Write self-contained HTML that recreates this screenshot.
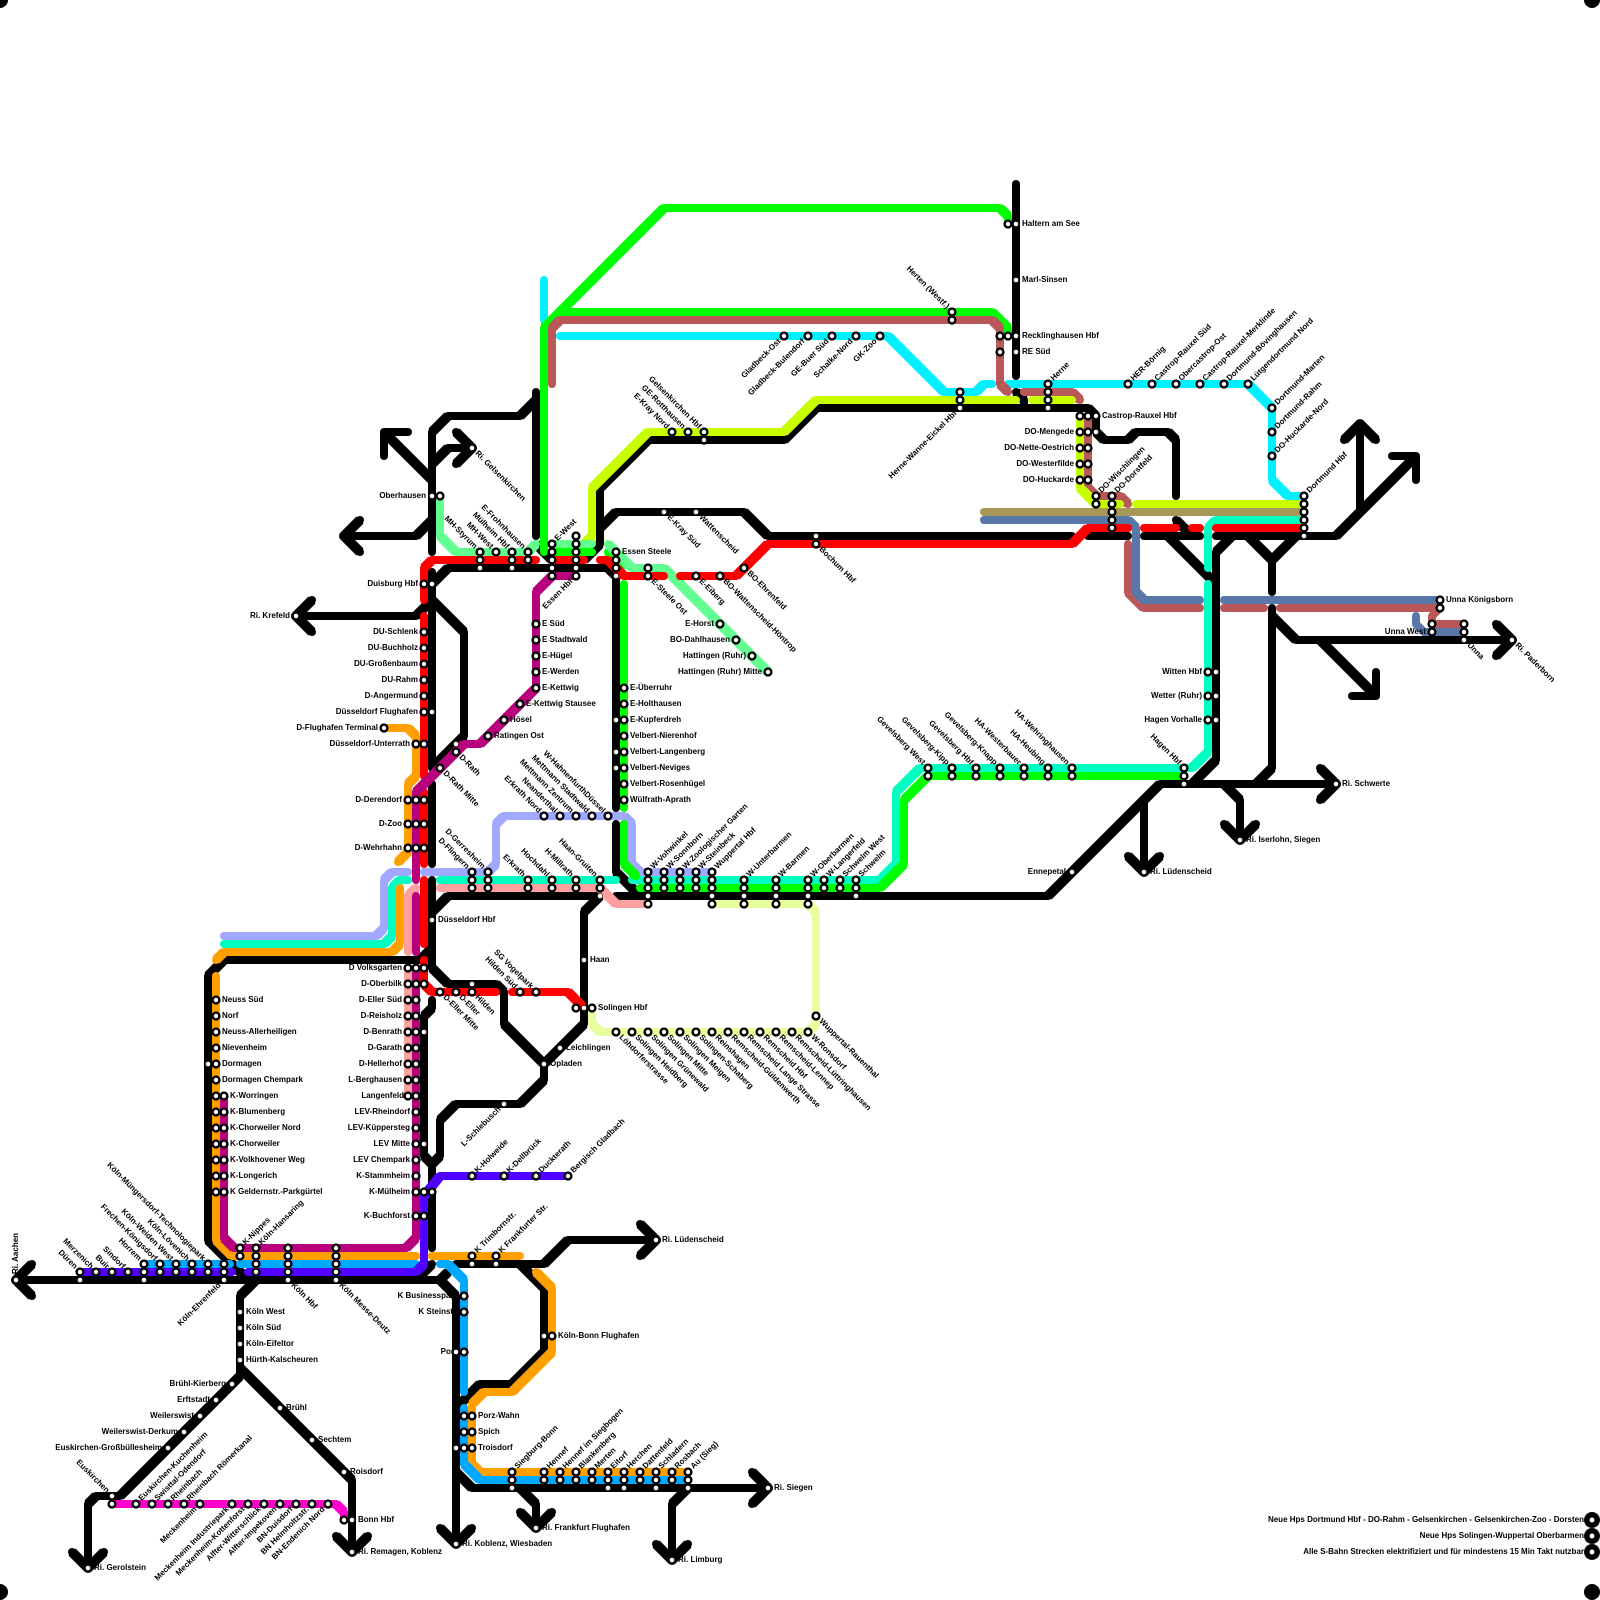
<!DOCTYPE html>
<html><head><meta charset="utf-8"><style>
html,body{margin:0;padding:0;background:#fff}
svg{display:block}
text{font:bold 8px "Liberation Sans",Arial,sans-serif;fill:#000}
.e{text-anchor:end}
path{fill:none;stroke-width:8;stroke-linecap:round;stroke-linejoin:round}
path.d{stroke-width:10;stroke-linecap:butt}
.b circle{fill:#fff;stroke:#000;stroke-width:2.4}
.s circle{fill:#fff;stroke:#000;stroke-width:.6}
</style></head><body>
<svg width="1600" height="1600" viewBox="0 0 1600 1600" xmlns="http://www.w3.org/2000/svg">
<!-- labels clipped by the line -->
<g class="e"><text x="458" y="1298">K Businesspark</text><text x="458" y="1314">K Steinstr.</text><text x="458" y="1354">Porz</text></g>
<!-- black -->
<path stroke="#000" d="M16 1280H440L456 1296V1544M440 1528L456 1544L472 1528M32 1264L16 1280L32 1296
M456 1472L472 1488H768M752 1472L768 1488L752 1504M520 1488L536 1504V1528M520 1512L536 1528L552 1512M688 1488L672 1504V1560M656 1544L672 1560L688 1544
M456 1408L480 1384H512L544 1352V1288L520 1264M456 1264H544L568 1240H656M640 1224L656 1240L640 1256M440 1280L448 1272M416 1280L432 1264
M432 1248V1164L424 1156V1016L432 1008V1000M432 880V968M432 912L448 896H600L584 912V1024L544 1064V1080L520 1104H456L440 1120V1156L432 1164M432 968L448 984H496L504 992V1024L544 1064
M224 960H420L432 948M208 1240V976L224 960M208 1240L248 1280M240 1376V1296L256 1280M240 1376L120 1496H96L88 1504V1568M72 1552L88 1568L104 1552M240 1368L352 1480V1552M336 1536L352 1552L368 1536
M432 784V864M432 572V768M464 736L432 768M432 600L464 632V736M296 616H416L432 600M312 600L296 616L312 632M448 568L432 584
M432 552V432L448 416H520L536 400M536 392V536M384 432L432 480M384 456V432H408M432 464L448 448H472M456 432L472 448L456 464M344 536H416L432 520M360 520L344 536L360 552
M448 568H608L616 576V808M616 824V872L640 896M536 544L552 560M600 544L584 560M600 544V488L648 440H784L816 408H1088L1096 416V432L1104 440H1128L1136 432H1168L1176 440V496
M600 528L616 512H744L768 536H1072M616 896H1048L1160 784H1336M1320 768L1336 784L1320 800M1144 800V872M1128 856L1144 872L1160 856M1224 784L1240 800V840M1224 824L1240 840L1256 824
M1216 760V552L1232 536M1216 760L1192 784M1168 536L1216 584M1272 768L1256 784M1272 608V768M1272 616L1296 640H1512M1496 624L1512 640L1496 656M1320 640L1376 696M1376 672V696H1352
M1248 536L1272 560V592M1296 536L1272 560M1216 536H1336L1416 456M1392 456H1416V480M1360 424V512M1344 440L1360 424L1376 440M1088 536H1128M1144 536H1200M1176 520L1192 536M1016 184V376M1016 392L1024 400V408"/>
<path class="d" stroke="#000" d="M32 1264L16 1280L32 1296M440 1528L456 1544L472 1528M440 1280L456 1296M456 1472L472 1488M752 1472L768 1488L752 1504M520 1488L536 1504M520 1512L536 1528L552 1512M688 1488L672 1504M656 1544L672 1560L688 1544M456 1408L480 1384M512 1384L544 1352M544 1288L520 1264M544 1264L568 1240M640 1224L656 1240L640 1256M440 1280L448 1272M416 1280L432 1264M432 1164L424 1156M424 1016L432 1008M432 912L448 896M600 896L584 912M584 1024L544 1064M544 1080L520 1104M456 1104L440 1120M440 1156L432 1164M432 968L448 984M496 984L504 992M504 1024L544 1064M420 960L432 948M208 976L224 960M208 1240L248 1280M240 1296L256 1280M240 1376L120 1496M96 1496L88 1504M72 1552L88 1568L104 1552M240 1368L352 1480M336 1536L352 1552L368 1536M464 736L432 768M432 600L464 632M416 616L432 600M312 600L296 616L312 632M448 568L432 584M432 432L448 416M520 416L536 400M384 432L432 480M432 464L448 448M456 432L472 448L456 464M416 536L432 520M360 520L344 536L360 552M608 568L616 576M616 872L640 896M536 544L552 560M600 544L584 560M600 488L648 440M784 440L816 408M1088 408L1096 416M1096 432L1104 440M1128 440L1136 432M1168 432L1176 440M600 528L616 512M744 512L768 536M1048 896L1160 784M1320 768L1336 784L1320 800M1128 856L1144 872L1160 856M1224 784L1240 800M1224 824L1240 840L1256 824M1216 552L1232 536M1216 760L1192 784M1168 536L1216 584M1272 768L1256 784M1272 616L1296 640M1496 624L1512 640L1496 656M1320 640L1376 696M1336 536L1416 456M1344 440L1360 424L1376 440M1176 520L1192 536M1248 536L1272 560M1296 536L1272 560M1016 392L1024 400"/>
<!-- colours -->
<path stroke="#00F0FF" d="M544 280V320M560 336H888L944 392H976L984 384H992M1008 384H1248L1272 408V480L1288 496H1304"/>
<path class="d" stroke="#00F0FF" d="M888 336L944 392M976 392L984 384M1248 384L1272 408M1272 480L1288 496"/>
<path stroke="#A0A8FF" d="M224 936H376L384 928V880L392 872H408M424 872H488L496 864V824L504 816H624L632 824V864L640 872H712"/>
<path class="d" stroke="#A0A8FF" d="M376 936L384 928M384 880L392 872M488 872L496 864M496 824L504 816M624 816L632 824M632 864L640 872"/>
<path stroke="#00FFC0" d="M224 944H384L392 936V888L400 880H408M440 880H616M632 880H880L896 864V792L920 768H1192L1208 752V584M1208 568V528L1216 520H1304"/>
<path class="d" stroke="#00FFC0" d="M384 944L392 936M392 888L400 880M880 880L896 864M896 792L920 768M1192 768L1208 752M1208 528L1216 520"/>
<path stroke="#00FF00" d="M544 552V328L664 208H1000L1008 216V224M544 328L560 312H992L1008 328V336M552 552H592M608 552L622 566M624 584V808M624 824V864L636 876M640 888H880L904 864V800L928 776H1184"/>
<path class="d" stroke="#00FF00" d="M544 328L664 208M1000 208L1008 216M544 328L560 312M992 312L1008 328M608 552L622 566M624 864L636 876M880 888L904 864M904 800L928 776"/>
<path stroke="#B85858" d="M552 384V328L560 320H992L1000 328V384L1008 392M1024 392H1072L1080 400M1088 416V488L1096 496H1120L1128 504M1128 544V592L1144 608H1200M1224 608H1264M1280 608H1440L1432 616V624H1464"/>
<path class="d" stroke="#B85858" d="M552 328L560 320M992 320L1000 328M1000 384L1008 392M1072 392L1080 400M1088 488L1096 496M1120 496L1128 504M1128 592L1144 608"/>
<path stroke="#C8FF00" d="M584 544L592 536V488L648 432H784L816 400H1016M1032 400H1072M1080 416V488L1096 504H1120M1136 504H1304"/>
<path class="d" stroke="#C8FF00" d="M584 544L592 536M592 488L648 432M784 432L816 400M1080 488L1096 504"/>
<path stroke="#A89858" d="M984 512H1304"/>
<path stroke="#5878A8" d="M984 520H1128L1136 528V592L1144 600H1200M1224 600H1440M1416 616V624L1424 632H1464"/>
<path class="d" stroke="#5878A8" d="M1128 520L1136 528M1136 592L1144 600"/>
<path stroke="#60FF90" d="M440 496V536L456 552H528L536 544M552 544H592M608 544L632 568H664L768 672"/>
<path class="d" stroke="#60FF90" d="M440 536L456 552M528 552L536 544M608 544L632 568M664 568L768 672"/>
<path stroke="#FFA0A0" d="M408 968V1096M408 952V896L416 888M440 888H600L616 904H648"/>
<path class="d" stroke="#FFA0A0" d="M408 896L416 888M600 888L616 904"/>
<path stroke="#FF0000" d="M424 600V568L432 560H536M424 616V776M424 792V864M424 880V944M424 960V984L432 992H496M512 992H568L582 1006M552 560H584M600 560H608L624 576H664M680 576H736L768 544H1072L1088 528H1128M1144 528H1176M1192 528H1200M1216 528H1304"/>
<path class="d" stroke="#FF0000" d="M424 568L432 560M424 984L432 992M568 992L582 1006M608 560L624 576M736 576L768 544M1072 544L1088 528"/>
<path stroke="#FFA000" d="M384 728H408L416 736V776L408 784V852L398 862M400 888V944L392 952H224L216 960M216 976V1240L232 1256H416M432 1256H520M536 1272L552 1288V1352L512 1392H484L472 1404V1464L480 1472H688"/>
<path class="d" stroke="#FFA000" d="M408 728L416 736M416 776L408 784M408 852L398 862M400 944L392 952M224 952L216 960M216 1240L232 1256M536 1272L552 1288M552 1352L512 1392M484 1392L472 1404M472 1464L480 1472"/>
<path stroke="#B8007C" d="M224 1096V1238L234 1248H406L416 1238V968M416 952V896M416 880V792L464 744H480L536 688V592L552 576H576"/>
<path class="d" stroke="#B8007C" d="M224 1238L234 1248M406 1248L416 1238M416 792L464 744M480 744L536 688M536 592L552 576"/>
<path stroke="#E8FFA0" d="M712 904H808L816 912V1024L808 1032H600L592 1024V1008"/>
<path class="d" stroke="#E8FFA0" d="M808 904L816 912M816 1024L808 1032M600 1032L592 1024"/>
<path stroke="#00A8FF" d="M144 1264H230M240 1264H416M440 1264H448L464 1280V1392M464 1408V1464L480 1480H688"/>
<path class="d" stroke="#00A8FF" d="M448 1264L464 1280M464 1464L480 1480"/>
<path stroke="#5000FF" d="M80 1272H232M248 1272H416L424 1264V1196L440 1176H568"/>
<path class="d" stroke="#5000FF" d="M416 1272L424 1264M424 1196L440 1176"/>
<path stroke="#FF00CC" d="M112 1504H336L344 1512V1520"/>
<path class="d" stroke="#FF00CC" d="M336 1504L344 1512"/>
<!-- labels right -->
<g>
<text x="230" y="1098">K-Worringen</text><text x="230" y="1114">K-Blumenberg</text><text x="230" y="1130">K-Chorweiler Nord</text><text x="230" y="1146">K-Chorweiler</text><text x="230" y="1162">K-Volkhovener Weg</text><text x="230" y="1178">K-Longerich</text><text x="230" y="1194">K Geldernstr.-Parkgürtel</text>
<text x="222" y="1002">Neuss Süd</text><text x="222" y="1018">Norf</text><text x="222" y="1034">Neuss-Allerheiligen</text><text x="222" y="1050">Nievenheim</text><text x="222" y="1066">Dormagen</text><text x="222" y="1082">Dormagen Chempark</text>
<text x="246" y="1314">Köln West</text><text x="246" y="1330">Köln Süd</text><text x="246" y="1346">Köln-Eifeltor</text><text x="246" y="1362">Hürth-Kalscheuren</text>
<text x="286" y="1410">Brühl</text><text x="318" y="1442">Sechtem</text><text x="350" y="1474">Roisdorf</text><text x="358" y="1522">Bonn Hbf</text><text x="358" y="1554">Ri. Remagen, Koblenz</text><text x="94" y="1570">Ri. Gerolstein</text>
<text x="478" y="1418">Porz-Wahn</text><text x="478" y="1434">Spich</text><text x="478" y="1450">Troisdorf</text><text x="558" y="1338">Köln-Bonn Flughafen</text>
<text x="462" y="1546">Ri. Koblenz, Wiesbaden</text><text x="662" y="1242">Ri. Lüdenscheid</text><text x="542" y="1530">Ri. Frankfurt Flughafen</text><text x="678" y="1562">Ri. Limburg</text><text x="774" y="1490">Ri. Siegen</text>
<text x="438" y="922">Düsseldorf Hbf</text><text x="590" y="962">Haan</text><text x="598" y="1010">Solingen Hbf</text><text x="566" y="1050">Leichlingen</text><text x="550" y="1066">Opladen</text>
<text x="542" y="626">E Süd</text><text x="542" y="642">E Stadtwald</text><text x="542" y="658">E-Hügel</text><text x="542" y="674">E-Werden</text><text x="542" y="690">E-Kettwig</text><text x="526" y="706">E-Kettwig Stausee</text><text x="510" y="722">Hösel</text><text x="494" y="738">Ratingen Ost</text>
<text x="622" y="554">Essen Steele</text>
<text x="630" y="690">E-Überruhr</text><text x="630" y="706">E-Holthausen</text><text x="630" y="722">E-Kupferdreh</text><text x="630" y="738">Velbert-Nierenhof</text><text x="630" y="754">Velbert-Langenberg</text><text x="630" y="770">Velbert-Neviges</text><text x="630" y="786">Velbert-Rosenhügel</text><text x="630" y="802">Wülfrath-Aprath</text>
<text x="1022" y="226">Haltern am See</text><text x="1022" y="282">Marl-Sinsen</text><text x="1022" y="338">Recklinghausen Hbf</text><text x="1022" y="354">RE Süd</text><text x="1102" y="418">Castrop-Rauxel Hbf</text>
<text x="1446" y="602">Unna Königsborn</text><text x="1150" y="874">Ri. Lüdenscheid</text><text x="1246" y="842">Ri. Iserlohn, Siegen</text><text x="1342" y="786">Ri. Schwerte</text>
</g>
<!-- labels left -->
<g class="e">
<text x="418" y="586">Duisburg Hbf</text><text x="290" y="618">Ri. Krefeld</text><text x="426" y="498">Oberhausen</text>
<text x="418" y="634">DU-Schlenk</text><text x="418" y="650">DU-Buchholz</text><text x="418" y="666">DU-Großenbaum</text><text x="418" y="682">DU-Rahm</text><text x="418" y="698">D-Angermund</text><text x="418" y="714">Düsseldorf Flughafen</text><text x="378" y="730">D-Flughafen Terminal</text><text x="410" y="746">Düsseldorf-Unterrath</text>
<text x="402" y="802">D-Derendorf</text><text x="402" y="826">D-Zoo</text><text x="402" y="850">D-Wehrhahn</text>
<text x="402" y="970">D Volksgarten</text><text x="402" y="986">D-Oberbilk</text><text x="402" y="1002">D-Eller Süd</text><text x="402" y="1018">D-Reisholz</text><text x="402" y="1034">D-Benrath</text><text x="402" y="1050">D-Garath</text><text x="402" y="1066">D-Hellerhof</text><text x="402" y="1082">L-Berghausen</text><text x="404" y="1098">Langenfeld</text>
<text x="410" y="1114">LEV-Rheindorf</text><text x="410" y="1130">LEV-Küppersteg</text><text x="410" y="1146">LEV Mitte</text><text x="410" y="1162">LEV Chempark</text><text x="410" y="1178">K-Stammheim</text><text x="410" y="1194">K-Mülheim</text><text x="410" y="1218">K-Buchforst</text>
<text x="226" y="1386">Brühl-Kierberg</text><text x="210" y="1402">Erftstadt</text><text x="194" y="1418">Weilerswist</text><text x="178" y="1434">Weilerswist-Derkum</text><text x="162" y="1450">Euskirchen-Großbüllesheim</text>
<text x="714" y="626">E-Horst</text><text x="730" y="642">BO-Dahlhausen</text><text x="746" y="658">Hattingen (Ruhr)</text><text x="762" y="674">Hattingen (Ruhr) Mitte</text>
<text x="1074" y="434">DO-Mengede</text><text x="1074" y="450">DO-Nette-Oestrich</text><text x="1074" y="466">DO-Westerfilde</text><text x="1074" y="482">DO-Huckarde</text>
<text x="1202" y="674">Witten Hbf</text><text x="1202" y="698">Wetter (Ruhr)</text><text x="1202" y="722">Hagen Vorhalle</text><text x="1426" y="634">Unna West</text><text x="1066" y="874">Ennepetal</text>
<text x="1584" y="1522">Neue Hps Dortmund Hbf - DO-Rahm - Gelsenkirchen - Gelsenkirchen-Zoo - Dorsten</text><text x="1584" y="1538">Neue Hps Solingen-Wuppertal Oberbarmen</text><text x="1584" y="1554">Alle S-Bahn Strecken elektrifiziert und für mindestens 15 Min Takt nutzbar</text>
</g>
<text transform="translate(16 1280)rotate(-90)" x="6" y="2">Ri. Aachen</text>
<!-- NE labels -->
<g>
<text transform="translate(240 1248)rotate(-45)" x="6" y="2">K-Nippes</text><text transform="translate(256 1248)rotate(-45)" x="6" y="2">Köln-Hansaring</text>
<text transform="translate(472 1176)rotate(-45)" x="6" y="2">K-Holweide</text><text transform="translate(504 1176)rotate(-45)" x="6" y="2">K-Dellbrück</text><text transform="translate(536 1176)rotate(-45)" x="6" y="2">Duckterath</text><text transform="translate(568 1176)rotate(-45)" x="6" y="2">Bergisch Gladbach</text>
<text transform="translate(472 1256)rotate(-45)" x="6" y="2">K Trimbornstr.</text><text transform="translate(496 1256)rotate(-45)" x="6" y="2">K Frankfurter Str.</text>
<text transform="translate(512 1472)rotate(-45)" x="6" y="2">Siegburg-Bonn</text><text transform="translate(544 1472)rotate(-45)" x="6" y="2">Hennef</text><text transform="translate(560 1472)rotate(-45)" x="6" y="2">Hennef im Siegbogen</text><text transform="translate(576 1472)rotate(-45)" x="6" y="2">Blankenberg</text><text transform="translate(592 1472)rotate(-45)" x="6" y="2">Merten</text><text transform="translate(608 1472)rotate(-45)" x="6" y="2">Eitorf</text><text transform="translate(624 1472)rotate(-45)" x="6" y="2">Herchen</text><text transform="translate(640 1472)rotate(-45)" x="6" y="2">Dattenfeld</text><text transform="translate(656 1472)rotate(-45)" x="6" y="2">Schladern</text><text transform="translate(672 1472)rotate(-45)" x="6" y="2">Rosbach</text><text transform="translate(688 1472)rotate(-45)" x="6" y="2">Au (Sieg)</text>
<text transform="translate(136 1504)rotate(-45)" x="6" y="2">Euskirchen-Kuchenheim</text><text transform="translate(152 1504)rotate(-45)" x="6" y="2">Swisttal-Odendorf</text><text transform="translate(168 1504)rotate(-45)" x="6" y="2">Rheinbach</text><text transform="translate(184 1504)rotate(-45)" x="6" y="2">Rheinbach Römerkanal</text>
<text transform="translate(552 544)rotate(-45)" x="6" y="2">E-West</text>
<text transform="translate(648 872)rotate(-45)" x="6" y="2">W-Vohwinkel</text><text transform="translate(664 872)rotate(-45)" x="6" y="2">W-Sonnborn</text><text transform="translate(680 872)rotate(-45)" x="6" y="2">W-Zoologischer Garten</text><text transform="translate(696 872)rotate(-45)" x="6" y="2">W-Steinbeck</text><text transform="translate(712 872)rotate(-45)" x="6" y="2">Wuppertal Hbf</text><text transform="translate(744 880)rotate(-45)" x="6" y="2">W-Unterbarmen</text><text transform="translate(776 880)rotate(-45)" x="6" y="2">W-Barmen</text><text transform="translate(808 880)rotate(-45)" x="6" y="2">W-Oberbarmen</text><text transform="translate(824 880)rotate(-45)" x="6" y="2">W-Langerfeld</text><text transform="translate(840 880)rotate(-45)" x="6" y="2">Schwelm West</text><text transform="translate(856 880)rotate(-45)" x="6" y="2">Schwelm</text>
<text transform="translate(1048 384)rotate(-45)" x="6" y="2">Herne</text><text transform="translate(1128 384)rotate(-45)" x="6" y="2">HER-Börnig</text><text transform="translate(1152 384)rotate(-45)" x="6" y="2">Castrop-Rauxel Süd</text><text transform="translate(1176 384)rotate(-45)" x="6" y="2">Obercastrop-Ost</text><text transform="translate(1200 384)rotate(-45)" x="6" y="2">Castrop-Rauxel-Merklinde</text><text transform="translate(1224 384)rotate(-45)" x="6" y="2">Dortmund-Bövinghausen</text><text transform="translate(1248 384)rotate(-45)" x="6" y="2">Lütgendortmund Nord</text>
<text transform="translate(1272 408)rotate(-45)" x="6" y="2">Dortmund-Marten</text><text transform="translate(1272 432)rotate(-45)" x="6" y="2">Dortmund-Rahm</text><text transform="translate(1272 456)rotate(-45)" x="6" y="2">DO-Huckarde-Nord</text><text transform="translate(1304 496)rotate(-45)" x="6" y="2">Dortmund Hbf</text>
<text transform="translate(1096 496)rotate(-45)" x="6" y="2">DO-Wischlingen</text><text transform="translate(1112 496)rotate(-45)" x="6" y="2">DO-Dorstfeld</text>
</g>
<!-- SE labels -->
<g>
<text transform="translate(288 1280)rotate(45)" x="6" y="2">Köln Hbf</text><text transform="translate(336 1280)rotate(45)" x="6" y="2">Köln Messe-Deutz</text>
<text transform="translate(456 752)rotate(45)" x="6" y="2">D-Rath</text><text transform="translate(440 768)rotate(45)" x="6" y="2">D-Rath Mitte</text><text transform="translate(440 992)rotate(45)" x="6" y="2">D-Eller Mitte</text><text transform="translate(456 992)rotate(45)" x="6" y="2">D-Eller</text><text transform="translate(472 992)rotate(45)" x="6" y="2">Hilden</text>
<text transform="translate(616 1032)rotate(45)" x="6" y="2">Löhdorferstrasse</text><text transform="translate(632 1032)rotate(45)" x="6" y="2">Solingen Heidberg</text><text transform="translate(648 1032)rotate(45)" x="6" y="2">Solingen Grünewald</text><text transform="translate(664 1032)rotate(45)" x="6" y="2">Solingen Mitte</text><text transform="translate(680 1032)rotate(45)" x="6" y="2">Solingen Meigen</text><text transform="translate(696 1032)rotate(45)" x="6" y="2">Solingen-Schaberg</text><text transform="translate(712 1032)rotate(45)" x="6" y="2">Reinshagen</text><text transform="translate(728 1032)rotate(45)" x="6" y="2">Remscheid-Güldenwerth</text><text transform="translate(744 1032)rotate(45)" x="6" y="2">Remscheid Lange Strasse</text><text transform="translate(760 1032)rotate(45)" x="6" y="2">Remscheid Hbf</text><text transform="translate(776 1032)rotate(45)" x="6" y="2">Remscheid-Lennep</text><text transform="translate(792 1032)rotate(45)" x="6" y="2">Remscheid-Lüttringhausen</text><text transform="translate(808 1032)rotate(45)" x="6" y="2">W-Ronsdorf</text><text transform="translate(816 1016)rotate(45)" x="6" y="2">Wuppertal-Rauenthal</text>
<text transform="translate(664 512)rotate(45)" x="6" y="2">E-Kray Süd</text><text transform="translate(696 512)rotate(45)" x="6" y="2">Wattenscheid</text><text transform="translate(648 576)rotate(45)" x="6" y="2">E-Steele Ost</text><text transform="translate(696 576)rotate(45)" x="6" y="2">E-Eiberg</text><text transform="translate(720 576)rotate(45)" x="6" y="2">BO-Wattenscheid-Höntrop</text><text transform="translate(744 568)rotate(45)" x="6" y="2">BO-Ehrenfeld</text><text transform="translate(816 544)rotate(45)" x="6" y="2">Bochum Hbf</text>
<text transform="translate(472 448)rotate(45)" x="6" y="2">Ri. Gelsenkirchen</text><text transform="translate(1464 640)rotate(45)" x="6" y="2">Unna</text><text transform="translate(1512 640)rotate(45)" x="6" y="2">Ri. Paderborn</text>
</g>
<!-- NW labels -->
<g class="e">
<text transform="translate(80 1272)rotate(45)" x="-6" y="2">Düren</text><text transform="translate(96 1272)rotate(45)" x="-6" y="2">Merzenich</text><text transform="translate(112 1272)rotate(45)" x="-6" y="2">Buir</text><text transform="translate(128 1272)rotate(45)" x="-6" y="2">Sindorf</text><text transform="translate(144 1264)rotate(45)" x="-6" y="2">Horrem</text><text transform="translate(160 1264)rotate(45)" x="-6" y="2">Frechen-Königsdorf</text><text transform="translate(176 1264)rotate(45)" x="-6" y="2">Köln-Weiden West</text><text transform="translate(192 1264)rotate(45)" x="-6" y="2">Köln-Lövenich</text><text transform="translate(208 1264)rotate(45)" x="-6" y="2">Köln-Müngersdorf-Technologiepark</text>
<text transform="translate(112 1496)rotate(45)" x="-6" y="2">Euskirchen</text><text transform="translate(952 312)rotate(45)" x="-6" y="2">Herten (Westf.)</text>
<text transform="translate(672 432)rotate(45)" x="-6" y="2">E-Kray Nord</text><text transform="translate(688 432)rotate(45)" x="-6" y="2">GE-Rotthausen</text><text transform="translate(704 432)rotate(45)" x="-6" y="2">Gelsenkirchen Hbf</text>
<text transform="translate(480 552)rotate(45)" x="-6" y="2">MH-Styrum</text><text transform="translate(496 552)rotate(45)" x="-6" y="2">MH-West</text><text transform="translate(512 552)rotate(45)" x="-6" y="2">Mülheim Hbf</text><text transform="translate(528 552)rotate(45)" x="-6" y="2">E-Frohnhausen</text>
<text transform="translate(544 816)rotate(45)" x="-6" y="2">Erkrath Nord</text><text transform="translate(560 816)rotate(45)" x="-6" y="2">Neanderthal</text><text transform="translate(576 816)rotate(45)" x="-6" y="2">Mettmann Zentrum</text><text transform="translate(592 816)rotate(45)" x="-6" y="2">Mettmann Stadtwald</text><text transform="translate(608 816)rotate(45)" x="-6" y="2">W-HahnenfurthDüssel</text>
<text transform="translate(472 872)rotate(45)" x="-6" y="2">D-Flingern</text><text transform="translate(488 872)rotate(45)" x="-6" y="2">D-Gerresheim</text><text transform="translate(528 880)rotate(45)" x="-6" y="2">Erkrath</text><text transform="translate(552 880)rotate(45)" x="-6" y="2">Hochdahl</text><text transform="translate(576 880)rotate(45)" x="-6" y="2">H-Millrath</text><text transform="translate(600 880)rotate(45)" x="-6" y="2">Haan-Gruiten</text>
<text transform="translate(520 992)rotate(45)" x="-6" y="2">Hilden Süd</text><text transform="translate(536 992)rotate(45)" x="-6" y="2">SG Vogelpark</text>
<text transform="translate(928 768)rotate(45)" x="-6" y="2">Gevelsberg West</text><text transform="translate(952 768)rotate(45)" x="-6" y="2">Gevelsberg-Kipp</text><text transform="translate(976 768)rotate(45)" x="-6" y="2">Gevelsberg Hbf</text><text transform="translate(1000 768)rotate(45)" x="-6" y="2">Gevelsberg-Knapp</text><text transform="translate(1024 768)rotate(45)" x="-6" y="2">HA-Westerbauer</text><text transform="translate(1048 768)rotate(45)" x="-6" y="2">HA-Heubing</text><text transform="translate(1072 768)rotate(45)" x="-6" y="2">HA-Wehringhausen</text><text transform="translate(1184 768)rotate(45)" x="-6" y="2">Hagen Hbf</text>
</g>
<!-- SW labels -->
<g class="e">
<text transform="translate(224 1280)rotate(-45)" x="-6" y="2">Köln-Ehrenfeld</text>
<text transform="translate(200 1504)rotate(-45)" x="-6" y="2">Meckenheim</text><text transform="translate(232 1504)rotate(-45)" x="-6" y="2">Meckenheim Industriepark</text><text transform="translate(248 1504)rotate(-45)" x="-6" y="2">Meckenheim-Kottenforst</text><text transform="translate(264 1504)rotate(-45)" x="-6" y="2">Alfter-Witterschlick</text><text transform="translate(280 1504)rotate(-45)" x="-6" y="2">Alfter-Impekoven</text><text transform="translate(296 1504)rotate(-45)" x="-6" y="2">BN-Duisdorf</text><text transform="translate(312 1504)rotate(-45)" x="-6" y="2">BN Helmholtzstr.</text><text transform="translate(328 1504)rotate(-45)" x="-6" y="2">BN-Endenich Nord</text>
<text transform="translate(504 1104)rotate(-45)" x="-6" y="2">L-Schlebusch</text><text transform="translate(576 576)rotate(-45)" x="-6" y="2">Essen Hbf</text>
<text transform="translate(784 336)rotate(-45)" x="-6" y="2">Gladbeck-Ost</text><text transform="translate(808 336)rotate(-45)" x="-6" y="2">Gladbeck-Bulendorf</text><text transform="translate(832 336)rotate(-45)" x="-6" y="2">GE-Buer Süd</text><text transform="translate(856 336)rotate(-45)" x="-6" y="2">Schalke-Nord</text><text transform="translate(880 336)rotate(-45)" x="-6" y="2">GK-Zoo</text><text transform="translate(960 408)rotate(-45)" x="-6" y="2">Herne-Wanne-Eickel Hbf</text>
</g>
<!-- corner dots -->
<circle cx="0" cy="0" r="8"/><circle cx="1592" cy="0" r="8"/><circle cx="0" cy="1592" r="8"/><circle cx="1592" cy="1592" r="8"/>
<g fill="#fff" stroke="#000" stroke-width="5.5"><circle cx="1592" cy="1520" r="5.2"/><circle cx="1592" cy="1536" r="5.2"/><circle cx="1592" cy="1552" r="5.2"/></g>
<!-- big stations -->
<g class="b">
<circle cx=80 cy=1272 r=3.4 /><circle cx=96 cy=1272 r=3.4 /><circle cx=112 cy=1272 r=3.4 /><circle cx=128 cy=1272 r=3.4 />
<circle cx=144 cy=1264 r=3.4 /><circle cx=144 cy=1272 r=3.4 /><circle cx=160 cy=1264 r=3.4 /><circle cx=160 cy=1272 r=3.4 /><circle cx=176 cy=1264 r=3.4 /><circle cx=176 cy=1272 r=3.4 /><circle cx=192 cy=1264 r=3.4 /><circle cx=192 cy=1272 r=3.4 /><circle cx=208 cy=1264 r=3.4 /><circle cx=208 cy=1272 r=3.4 /><circle cx=224 cy=1264 r=3.4 /><circle cx=224 cy=1272 r=3.4 />
<circle cx=240 cy=1248 r=3.4 /><circle cx=240 cy=1256 r=3.4 />
<circle cx=256 cy=1248 r=3.4 /><circle cx=256 cy=1256 r=3.4 /><circle cx=256 cy=1264 r=3.4 /><circle cx=256 cy=1272 r=3.4 />
<circle cx=288 cy=1248 r=3.4 /><circle cx=288 cy=1256 r=3.4 /><circle cx=288 cy=1264 r=3.4 /><circle cx=288 cy=1272 r=3.4 />
<circle cx=336 cy=1248 r=3.4 /><circle cx=336 cy=1256 r=3.4 /><circle cx=336 cy=1264 r=3.4 /><circle cx=336 cy=1272 r=3.4 />
<circle cx=216 cy=1000 r=3.4 /><circle cx=216 cy=1016 r=3.4 /><circle cx=216 cy=1032 r=3.4 /><circle cx=216 cy=1048 r=3.4 /><circle cx=216 cy=1064 r=3.4 /><circle cx=216 cy=1080 r=3.4 />
<circle cx=216 cy=1096 r=3.4 /><circle cx=224 cy=1096 r=3.4 /><circle cx=216 cy=1112 r=3.4 /><circle cx=224 cy=1112 r=3.4 /><circle cx=216 cy=1128 r=3.4 /><circle cx=224 cy=1128 r=3.4 /><circle cx=216 cy=1144 r=3.4 /><circle cx=224 cy=1144 r=3.4 /><circle cx=216 cy=1160 r=3.4 /><circle cx=224 cy=1160 r=3.4 /><circle cx=216 cy=1176 r=3.4 /><circle cx=224 cy=1176 r=3.4 /><circle cx=216 cy=1192 r=3.4 /><circle cx=224 cy=1192 r=3.4 />
<circle cx=416 cy=1112 r=3.4 /><circle cx=416 cy=1128 r=3.4 /><circle cx=416 cy=1144 r=3.4 /><circle cx=416 cy=1160 r=3.4 /><circle cx=416 cy=1176 r=3.4 /><circle cx=416 cy=1192 r=3.4 /><circle cx=424 cy=1192 r=3.4 /><circle cx=432 cy=1192 r=3.4 /><circle cx=416 cy=1216 r=3.4 /><circle cx=424 cy=1216 r=3.4 />
<circle cx=408 cy=968 r=3.4 /><circle cx=416 cy=968 r=3.4 /><circle cx=424 cy=968 r=3.4 /><circle cx=408 cy=984 r=3.4 /><circle cx=416 cy=984 r=3.4 /><circle cx=424 cy=984 r=3.4 />
<circle cx=408 cy=1000 r=3.4 /><circle cx=416 cy=1000 r=3.4 /><circle cx=408 cy=1016 r=3.4 /><circle cx=416 cy=1016 r=3.4 /><circle cx=408 cy=1032 r=3.4 /><circle cx=416 cy=1032 r=3.4 /><circle cx=408 cy=1048 r=3.4 /><circle cx=416 cy=1048 r=3.4 /><circle cx=408 cy=1064 r=3.4 /><circle cx=416 cy=1064 r=3.4 /><circle cx=408 cy=1080 r=3.4 /><circle cx=416 cy=1080 r=3.4 /><circle cx=408 cy=1096 r=3.4 /><circle cx=416 cy=1096 r=3.4 />
<circle cx=408 cy=800 r=3.4 /><circle cx=416 cy=800 r=3.4 /><circle cx=424 cy=800 r=3.4 /><circle cx=408 cy=824 r=3.4 /><circle cx=416 cy=824 r=3.4 /><circle cx=424 cy=824 r=3.4 /><circle cx=408 cy=848 r=3.4 /><circle cx=416 cy=848 r=3.4 /><circle cx=424 cy=848 r=3.4 />
<circle cx=424 cy=584 r=3.4 /><circle cx=424 cy=632 r=3.4 /><circle cx=424 cy=648 r=3.4 /><circle cx=424 cy=664 r=3.4 /><circle cx=424 cy=680 r=3.4 /><circle cx=424 cy=696 r=3.4 /><circle cx=424 cy=712 r=3.4 /><circle cx=384 cy=728 r=3.4 /><circle cx=416 cy=744 r=3.4 /><circle cx=424 cy=744 r=3.4 />
<circle cx=440 cy=496 r=3.4 /><circle cx=456 cy=752 r=3.4 /><circle cx=440 cy=768 r=3.4 /><circle cx=488 cy=736 r=3.4 /><circle cx=504 cy=720 r=3.4 /><circle cx=520 cy=704 r=3.4 /><circle cx=536 cy=688 r=3.4 /><circle cx=536 cy=672 r=3.4 /><circle cx=536 cy=656 r=3.4 /><circle cx=536 cy=640 r=3.4 /><circle cx=536 cy=624 r=3.4 />
<circle cx=544 cy=816 r=3.4 /><circle cx=560 cy=816 r=3.4 /><circle cx=576 cy=816 r=3.4 /><circle cx=592 cy=816 r=3.4 /><circle cx=608 cy=816 r=3.4 />
<circle cx=472 cy=872 r=3.4 /><circle cx=472 cy=880 r=3.4 /><circle cx=472 cy=888 r=3.4 /><circle cx=488 cy=872 r=3.4 /><circle cx=488 cy=880 r=3.4 /><circle cx=488 cy=888 r=3.4 />
<circle cx=528 cy=880 r=3.4 /><circle cx=528 cy=888 r=3.4 /><circle cx=552 cy=880 r=3.4 /><circle cx=552 cy=888 r=3.4 /><circle cx=576 cy=880 r=3.4 /><circle cx=576 cy=888 r=3.4 /><circle cx=600 cy=880 r=3.4 /><circle cx=600 cy=888 r=3.4 />
<circle cx=440 cy=992 r=3.4 /><circle cx=456 cy=992 r=3.4 /><circle cx=472 cy=992 r=3.4 /><circle cx=520 cy=992 r=3.4 /><circle cx=536 cy=992 r=3.4 /><circle cx=576 cy=1008 r=3.4 /><circle cx=592 cy=1008 r=3.4 />
<circle cx=616 cy=1032 r=3.4 /><circle cx=632 cy=1032 r=3.4 /><circle cx=648 cy=1032 r=3.4 /><circle cx=664 cy=1032 r=3.4 /><circle cx=680 cy=1032 r=3.4 /><circle cx=696 cy=1032 r=3.4 /><circle cx=712 cy=1032 r=3.4 /><circle cx=728 cy=1032 r=3.4 /><circle cx=744 cy=1032 r=3.4 /><circle cx=760 cy=1032 r=3.4 /><circle cx=776 cy=1032 r=3.4 /><circle cx=792 cy=1032 r=3.4 /><circle cx=808 cy=1032 r=3.4 /><circle cx=816 cy=1016 r=3.4 />
<circle cx=472 cy=1176 r=3.4 /><circle cx=504 cy=1176 r=3.4 /><circle cx=536 cy=1176 r=3.4 /><circle cx=568 cy=1176 r=3.4 /><circle cx=472 cy=1256 r=3.4 /><circle cx=496 cy=1256 r=3.4 />
<circle cx=464 cy=1296 r=3.4 /><circle cx=464 cy=1312 r=3.4 /><circle cx=464 cy=1352 r=3.4 /><circle cx=552 cy=1336 r=3.4 /><circle cx=464 cy=1416 r=3.4 /><circle cx=472 cy=1416 r=3.4 /><circle cx=464 cy=1432 r=3.4 /><circle cx=472 cy=1432 r=3.4 /><circle cx=464 cy=1448 r=3.4 /><circle cx=472 cy=1448 r=3.4 />
<circle cx=512 cy=1472 r=3.4 /><circle cx=512 cy=1480 r=3.4 /><circle cx=544 cy=1472 r=3.4 /><circle cx=544 cy=1480 r=3.4 /><circle cx=560 cy=1472 r=3.4 /><circle cx=560 cy=1480 r=3.4 /><circle cx=576 cy=1472 r=3.4 /><circle cx=576 cy=1480 r=3.4 /><circle cx=592 cy=1472 r=3.4 /><circle cx=592 cy=1480 r=3.4 /><circle cx=608 cy=1472 r=3.4 /><circle cx=608 cy=1480 r=3.4 /><circle cx=624 cy=1472 r=3.4 /><circle cx=624 cy=1480 r=3.4 /><circle cx=640 cy=1472 r=3.4 /><circle cx=640 cy=1480 r=3.4 /><circle cx=656 cy=1472 r=3.4 /><circle cx=656 cy=1480 r=3.4 /><circle cx=672 cy=1472 r=3.4 /><circle cx=672 cy=1480 r=3.4 /><circle cx=688 cy=1472 r=3.4 /><circle cx=688 cy=1480 r=3.4 />
<circle cx=112 cy=1504 r=3.4 /><circle cx=136 cy=1504 r=3.4 /><circle cx=152 cy=1504 r=3.4 /><circle cx=168 cy=1504 r=3.4 /><circle cx=184 cy=1504 r=3.4 /><circle cx=200 cy=1504 r=3.4 /><circle cx=232 cy=1504 r=3.4 /><circle cx=248 cy=1504 r=3.4 /><circle cx=264 cy=1504 r=3.4 /><circle cx=280 cy=1504 r=3.4 /><circle cx=296 cy=1504 r=3.4 /><circle cx=312 cy=1504 r=3.4 /><circle cx=328 cy=1504 r=3.4 /><circle cx=344 cy=1520 r=3.4 />
<circle cx=480 cy=552 r=3.4 /><circle cx=480 cy=560 r=3.4 /><circle cx=496 cy=552 r=3.4 /><circle cx=512 cy=552 r=3.4 /><circle cx=512 cy=560 r=3.4 /><circle cx=528 cy=552 r=3.4 /><circle cx=528 cy=560 r=3.4 />
<circle cx=552 cy=544 r=3.4 /><circle cx=552 cy=552 r=3.4 /><circle cx=552 cy=560 r=3.4 /><circle cx=552 cy=568 r=3.4 /><circle cx=552 cy=576 r=3.4 /><circle cx=576 cy=536 r=3.4 /><circle cx=576 cy=544 r=3.4 /><circle cx=576 cy=552 r=3.4 /><circle cx=576 cy=560 r=3.4 /><circle cx=576 cy=576 r=3.4 />
<circle cx=616 cy=552 r=3.4 /><circle cx=616 cy=560 r=3.4 /><circle cx=616 cy=568 r=3.4 /><circle cx=648 cy=568 r=3.4 /><circle cx=648 cy=576 r=3.4 /><circle cx=696 cy=576 r=3.4 /><circle cx=720 cy=576 r=3.4 /><circle cx=744 cy=568 r=3.4 /><circle cx=816 cy=544 r=3.4 />
<circle cx=720 cy=624 r=3.4 /><circle cx=736 cy=640 r=3.4 /><circle cx=752 cy=656 r=3.4 /><circle cx=768 cy=672 r=3.4 />
<circle cx=624 cy=688 r=3.4 /><circle cx=624 cy=704 r=3.4 /><circle cx=624 cy=720 r=3.4 /><circle cx=624 cy=736 r=3.4 /><circle cx=624 cy=752 r=3.4 /><circle cx=624 cy=768 r=3.4 /><circle cx=624 cy=784 r=3.4 /><circle cx=624 cy=800 r=3.4 />
<circle cx=648 cy=872 r=3.4 /><circle cx=648 cy=880 r=3.4 /><circle cx=648 cy=888 r=3.4 /><circle cx=648 cy=904 r=3.4 /><circle cx=664 cy=872 r=3.4 /><circle cx=664 cy=880 r=3.4 /><circle cx=664 cy=888 r=3.4 /><circle cx=680 cy=872 r=3.4 /><circle cx=680 cy=880 r=3.4 /><circle cx=680 cy=888 r=3.4 /><circle cx=696 cy=872 r=3.4 /><circle cx=696 cy=880 r=3.4 /><circle cx=696 cy=888 r=3.4 /><circle cx=712 cy=872 r=3.4 /><circle cx=712 cy=880 r=3.4 /><circle cx=712 cy=888 r=3.4 /><circle cx=712 cy=904 r=3.4 />
<circle cx=744 cy=880 r=3.4 /><circle cx=744 cy=888 r=3.4 /><circle cx=744 cy=904 r=3.4 /><circle cx=776 cy=880 r=3.4 /><circle cx=776 cy=888 r=3.4 /><circle cx=776 cy=904 r=3.4 /><circle cx=808 cy=880 r=3.4 /><circle cx=808 cy=888 r=3.4 /><circle cx=808 cy=904 r=3.4 /><circle cx=824 cy=880 r=3.4 /><circle cx=824 cy=888 r=3.4 /><circle cx=840 cy=880 r=3.4 /><circle cx=840 cy=888 r=3.4 /><circle cx=856 cy=880 r=3.4 /><circle cx=856 cy=888 r=3.4 />
<circle cx=928 cy=768 r=3.4 /><circle cx=928 cy=776 r=3.4 /><circle cx=952 cy=768 r=3.4 /><circle cx=952 cy=776 r=3.4 /><circle cx=976 cy=768 r=3.4 /><circle cx=976 cy=776 r=3.4 /><circle cx=1000 cy=768 r=3.4 /><circle cx=1000 cy=776 r=3.4 /><circle cx=1024 cy=768 r=3.4 /><circle cx=1024 cy=776 r=3.4 /><circle cx=1048 cy=768 r=3.4 /><circle cx=1048 cy=776 r=3.4 /><circle cx=1072 cy=768 r=3.4 /><circle cx=1072 cy=776 r=3.4 /><circle cx=1184 cy=768 r=3.4 /><circle cx=1184 cy=776 r=3.4 />
<circle cx=1208 cy=672 r=3.4 /><circle cx=1208 cy=696 r=3.4 /><circle cx=1208 cy=720 r=3.4 />
<circle cx=1008 cy=224 r=3.4 /><circle cx=952 cy=312 r=3.4 /><circle cx=952 cy=320 r=3.4 /><circle cx=1000 cy=336 r=3.4 /><circle cx=1008 cy=336 r=3.4 /><circle cx=1000 cy=352 r=3.4 />
<circle cx=784 cy=336 r=3.4 /><circle cx=808 cy=336 r=3.4 /><circle cx=832 cy=336 r=3.4 /><circle cx=856 cy=336 r=3.4 /><circle cx=880 cy=336 r=3.4 /><circle cx=960 cy=392 r=3.4 /><circle cx=960 cy=400 r=3.4 />
<circle cx=672 cy=432 r=3.4 /><circle cx=688 cy=432 r=3.4 /><circle cx=704 cy=432 r=3.4 /><circle cx=704 cy=440 r=3.4 />
<circle cx=1048 cy=384 r=3.4 /><circle cx=1048 cy=392 r=3.4 /><circle cx=1048 cy=400 r=3.4 /><circle cx=1128 cy=384 r=3.4 /><circle cx=1152 cy=384 r=3.4 /><circle cx=1176 cy=384 r=3.4 /><circle cx=1200 cy=384 r=3.4 /><circle cx=1224 cy=384 r=3.4 /><circle cx=1248 cy=384 r=3.4 /><circle cx=1272 cy=408 r=3.4 /><circle cx=1272 cy=432 r=3.4 /><circle cx=1272 cy=456 r=3.4 />
<circle cx=1080 cy=416 r=3.4 /><circle cx=1088 cy=416 r=3.4 /><circle cx=1096 cy=416 r=3.4 /><circle cx=1080 cy=432 r=3.4 /><circle cx=1088 cy=432 r=3.4 /><circle cx=1080 cy=448 r=3.4 /><circle cx=1088 cy=448 r=3.4 /><circle cx=1080 cy=464 r=3.4 /><circle cx=1088 cy=464 r=3.4 /><circle cx=1080 cy=480 r=3.4 /><circle cx=1088 cy=480 r=3.4 />
<circle cx=1096 cy=496 r=3.4 /><circle cx=1096 cy=504 r=3.4 /><circle cx=1112 cy=496 r=3.4 /><circle cx=1112 cy=504 r=3.4 /><circle cx=1112 cy=512 r=3.4 /><circle cx=1112 cy=520 r=3.4 /><circle cx=1112 cy=528 r=3.4 />
<circle cx=1304 cy=496 r=3.4 /><circle cx=1304 cy=504 r=3.4 /><circle cx=1304 cy=512 r=3.4 /><circle cx=1304 cy=520 r=3.4 /><circle cx=1304 cy=528 r=3.4 />
<circle cx=1440 cy=600 r=3.4 /><circle cx=1440 cy=608 r=3.4 /><circle cx=1432 cy=624 r=3.4 /><circle cx=1432 cy=632 r=3.4 /><circle cx=1464 cy=624 r=3.4 /><circle cx=1464 cy=632 r=3.4 />
</g>
<!-- small stations -->
<g class="s">
<circle cx=16 cy=1280 r=2.6 /><circle cx=80 cy=1280 r=2.6 /><circle cx=144 cy=1280 r=2.6 /><circle cx=224 cy=1280 r=2.6 /><circle cx=288 cy=1280 r=2.6 /><circle cx=336 cy=1280 r=2.6 /><circle cx=208 cy=1064 r=2.6 />
<circle cx=240 cy=1312 r=2.6 /><circle cx=240 cy=1328 r=2.6 /><circle cx=240 cy=1344 r=2.6 /><circle cx=240 cy=1360 r=2.6 /><circle cx=232 cy=1384 r=2.6 /><circle cx=216 cy=1400 r=2.6 /><circle cx=200 cy=1416 r=2.6 /><circle cx=184 cy=1432 r=2.6 /><circle cx=168 cy=1448 r=2.6 /><circle cx=112 cy=1496 r=2.6 /><circle cx=88 cy=1568 r=2.6 />
<circle cx=280 cy=1408 r=2.6 /><circle cx=312 cy=1440 r=2.6 /><circle cx=344 cy=1472 r=2.6 /><circle cx=352 cy=1520 r=2.6 /><circle cx=352 cy=1552 r=2.6 />
<circle cx=456 cy=1352 r=2.6 /><circle cx=456 cy=1448 r=2.6 /><circle cx=456 cy=1544 r=2.6 /><circle cx=472 cy=1264 r=2.6 /><circle cx=496 cy=1264 r=2.6 /><circle cx=544 cy=1336 r=2.6 /><circle cx=656 cy=1240 r=2.6 />
<circle cx=512 cy=1488 r=2.6 /><circle cx=608 cy=1488 r=2.6 /><circle cx=624 cy=1488 r=2.6 /><circle cx=656 cy=1488 r=2.6 /><circle cx=688 cy=1488 r=2.6 /><circle cx=768 cy=1488 r=2.6 /><circle cx=536 cy=1528 r=2.6 /><circle cx=672 cy=1560 r=2.6 />
<circle cx=424 cy=1144 r=2.6 /><circle cx=424 cy=1032 r=2.6 /><circle cx=432 cy=920 r=2.6 /><circle cx=472 cy=984 r=2.6 /><circle cx=584 cy=960 r=2.6 /><circle cx=584 cy=1008 r=2.6 /><circle cx=560 cy=1048 r=2.6 /><circle cx=544 cy=1064 r=2.6 /><circle cx=504 cy=1104 r=2.6 /><circle cx=600 cy=896 r=2.6 />
<circle cx=432 cy=496 r=2.6 /><circle cx=472 cy=448 r=2.6 /><circle cx=432 cy=584 r=2.6 /><circle cx=296 cy=616 r=2.6 /><circle cx=432 cy=712 r=2.6 /><circle cx=424 cy=744 r=2.6 /><circle cx=456 cy=744 r=2.6 />
<circle cx=480 cy=568 r=2.6 /><circle cx=512 cy=568 r=2.6 /><circle cx=576 cy=568 r=2.6 /><circle cx=616 cy=576 r=2.6 /><circle cx=664 cy=512 r=2.6 /><circle cx=696 cy=512 r=2.6 /><circle cx=816 cy=536 r=2.6 />
<circle cx=616 cy=720 r=2.6 /><circle cx=616 cy=752 r=2.6 /><circle cx=616 cy=768 r=2.6 />
<circle cx=648 cy=896 r=2.6 /><circle cx=712 cy=896 r=2.6 /><circle cx=744 cy=896 r=2.6 /><circle cx=776 cy=896 r=2.6 /><circle cx=808 cy=896 r=2.6 /><circle cx=856 cy=896 r=2.6 />
<circle cx=1016 cy=224 r=2.6 /><circle cx=1016 cy=280 r=2.6 /><circle cx=1016 cy=336 r=2.6 /><circle cx=1016 cy=352 r=2.6 /><circle cx=960 cy=408 r=2.6 /><circle cx=1048 cy=408 r=2.6 /><circle cx=1096 cy=432 r=2.6 />
<circle cx=1304 cy=536 r=2.6 /><circle cx=1216 cy=672 r=2.6 /><circle cx=1216 cy=696 r=2.6 /><circle cx=1216 cy=720 r=2.6 /><circle cx=1184 cy=784 r=2.6 /><circle cx=1072 cy=872 r=2.6 /><circle cx=1144 cy=872 r=2.6 /><circle cx=1240 cy=840 r=2.6 /><circle cx=1336 cy=784 r=2.6 /><circle cx=1464 cy=640 r=2.6 /><circle cx=1512 cy=640 r=2.6 />
</g>
</svg>
</body></html>
